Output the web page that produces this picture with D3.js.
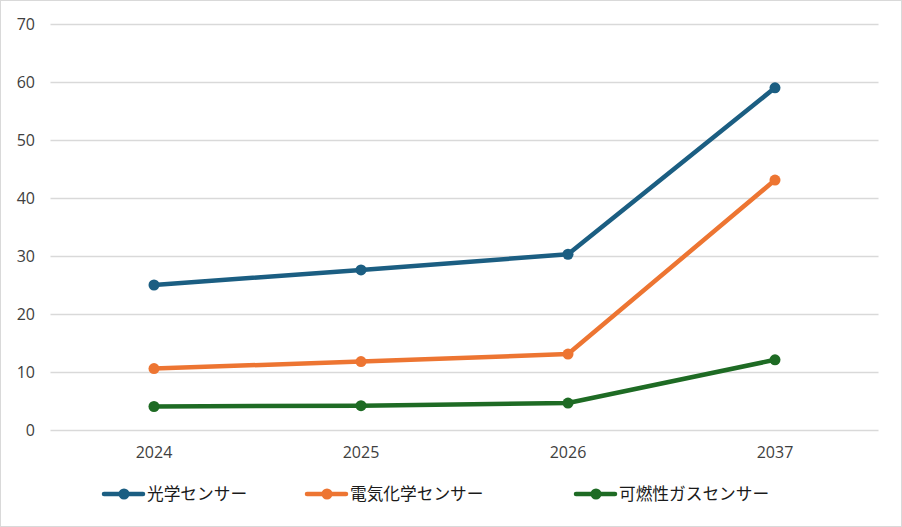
<!DOCTYPE html>
<html><head><meta charset="utf-8">
<script src="https://cdn.jsdelivr.net/npm/d3@7"></script>
<style>body{margin:0;background:#fff}svg{display:block}</style>
</head><body>
<svg id="c" width="902" height="527"></svg>
<script>
const categories = ["2024","2025","2026","2037"];
const seriesNames = ["光学センサー","電気化学センサー","可燃性ガスセンサー"];
const optical = [25.0, 27.6, 30.3, 59.0];
const electrochemical = [10.6, 11.8, 13.1, 43.1];
const combustible = [4.05, 4.2, 4.65, 12.1];
const yTicks = [0,10,20,30,40,50,60,70];
const colors = ["#1b5e82","#ed7532","#1e6b24"];

const series = [optical, electrochemical, combustible];
const svg = d3.select("#c");
svg.append("rect").attr("x",0.5).attr("y",0.5).attr("width",901).attr("height",526)
  .attr("fill","#fff").attr("stroke","#d9d9d9");

const x = d3.scaleBand().domain(categories).range([50.5,878.5]);
const y = d3.scaleLinear().domain([0,70]).range([430,24]);
const tickFont = "'Open Sans', 'Liberation Sans', sans-serif";

const g = svg.append("g");
const yAxis = g.append("g").attr("transform","translate(50.5,0)")
  .call(d3.axisLeft(y).tickValues(yTicks).tickSize(-828).tickPadding(15.5).tickFormat(d3.format("d")));
yAxis.select(".domain").remove();
yAxis.selectAll("line").attr("stroke","#d9d9d9").attr("stroke-width",1.5);
yAxis.selectAll("text").attr("fill","#404040").style("font-family",tickFont).style("font-size","16px");

const xAxis = g.append("g").attr("transform","translate(0,430)")
  .call(d3.axisBottom(x).tickSize(0).tickPadding(17));
xAxis.select(".domain").remove();
xAxis.selectAll("text").attr("fill","#404040").style("font-family",tickFont).style("font-size","16px");

const line = d3.line().x((d,i)=>x(categories[i])+x.bandwidth()/2).y(d=>y(d));
series.forEach((s,k)=>{
  g.append("path").datum(s).attr("d",line).attr("fill","none")
    .attr("stroke",colors[k]).attr("stroke-width",4.5).attr("stroke-linejoin","round").attr("stroke-linecap","round");
  g.selectAll(null).data(s).enter().append("circle")
    .attr("cx",(d,i)=>x(categories[i])+x.bandwidth()/2).attr("cy",d=>y(d)).attr("r",5.5).attr("fill",colors[k]);
});

const legX = [102,305,574];
const legY = 494;
seriesNames.forEach((n,k)=>{
  const lg = svg.append("g").attr("transform",`translate(${legX[k]},${legY})`);
  lg.append("line").attr("x1",2).attr("x2",41).attr("y1",0).attr("y2",0)
    .attr("stroke",colors[k]).attr("stroke-width",4.5).attr("stroke-linecap","round");
  lg.append("circle").attr("cx",22).attr("cy",0).attr("r",5.5).attr("fill",colors[k]);
  lg.append("text").attr("x",45).attr("y",0).attr("dy","0.36em").text(n)
    .attr("fill","#1a1a1a").style("font-family","'Noto Sans CJK JP', sans-serif").style("font-size","16.7px");
});
</script>
</body></html>
